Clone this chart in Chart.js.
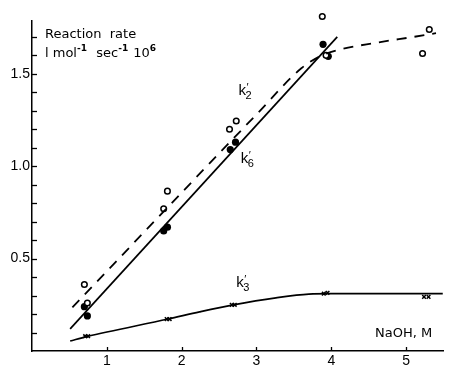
<!DOCTYPE html>
<html><head><meta charset="utf-8">
<script src="https://cdn.jsdelivr.net/npm/chart.js@4"></script>
<style>html,body{margin:0;padding:0;background:#fff}</style>
</head><body>
<canvas id="c" width="449" height="367" style="width:449px;height:367px;display:block"></canvas>
<script>
// ---- data ----
const xTicks = [1, 2, 3, 4, 5];
const yTickLabels = [0.5, 1.0, 1.5];
// k'2 : open circles
const k2OpenX = [0.70, 0.74, 1.76, 1.81, 2.64, 2.73, 3.88, 3.93, 5.22, 5.31];
const k2OpenY = [0.36, 0.26, 0.77, 0.865, 1.20, 1.245, 1.81, 1.60, 1.61, 1.74];
// k'6 : filled circles
const k6FillX = [0.70, 0.74, 1.76, 1.81, 2.65, 2.72, 3.89, 3.96];
const k6FillY = [0.24, 0.19, 0.65, 0.67, 1.09, 1.13, 1.66, 1.595];
// k'3 : crosses
const k3X = [0.71, 0.75, 1.80, 1.84, 2.67, 2.71, 3.90, 3.95, 5.24, 5.30];
const k3Y = [0.08, 0.08, 0.173, 0.173, 0.25, 0.25, 0.31, 0.315, 0.293, 0.293];
// fitted curves
const k2CurveX = [0.54, 3.0, 3.6, 3.85, 4.1, 4.6, 5.1, 5.4];
const k2CurveY = [0.236, 1.28, 1.53, 1.595, 1.63, 1.668, 1.70, 1.72];
const k6LineX = [0.51, 4.08];
const k6LineY = [0.12, 1.70];
const k3CurveX = [0.51, 0.73, 1.82, 2.24, 2.69, 3.26, 3.7, 4.0, 5.49];
const k3CurveY = [0.054, 0.078, 0.173, 0.212, 0.25, 0.288, 0.308, 0.31, 0.31];

const pts = (xs, ys) => xs.map((x, i) => ({x: x, y: ys[i]}));

const FONT = "'Liberation Sans', Arial, sans-serif";
const TFONT = "'DejaVu Sans', sans-serif";

const decor = {
  id: 'decor',
  afterDraw(chart) {
    const ctx = chart.ctx;
    const xs = chart.scales.x, ys = chart.scales.y;
    const ca = chart.chartArea;
    ctx.save();
    ctx.strokeStyle = '#000';
    ctx.lineWidth = 1.3;
    // inside ticks on y axis every 0.1
    for (let v = 1; v <= 17; v++) {
      const py = Math.round(ys.getPixelForValue(v / 10)) + 0.5;
      ctx.beginPath(); ctx.moveTo(ca.left, py); ctx.lineTo(ca.left + 5, py); ctx.stroke();
    }
    // inside ticks on x axis
    xTicks.forEach(v => {
      const px = Math.round(xs.getPixelForValue(v)) + 0.5;
      ctx.beginPath(); ctx.moveTo(px, ca.bottom); ctx.lineTo(px, ca.bottom - 4); ctx.stroke();
    });
    ctx.fillStyle = '#000';
    ctx.textBaseline = 'alphabetic';
    ctx.textAlign = 'left';
    // axis titles
    ctx.font = '13px ' + TFONT;
    ctx.fillText('Reaction  rate', 45, 38);
    let x = 45;
    const line2 = [['l mol', 0], ['-1', 1], ['  sec', 0], ['-1', 1], [' 10', 0], ['6', 1]];
    line2.forEach(([t, sup]) => {
      ctx.font = (sup ? 'bold 9px ' : '13px ') + TFONT;
      ctx.fillText(t, x, sup ? 51 : 57);
      x += ctx.measureText(t).width + (sup ? 1 : 0);
    });
    ctx.font = '13px ' + TFONT;
    ctx.fillText('NaOH, M', 375, 337);
    // curve labels
    const klabel = (sub, px, py) => {
      ctx.font = '15px ' + FONT;
      ctx.fillText('k', px, py);
      ctx.font = '11px ' + FONT;
      ctx.fillText('\u2032', px + 8, py - 4);
      ctx.fillText(sub, px + 7, py + 4);
    };
    klabel('2', xs.getPixelForValue(2.76), ys.getPixelForValue(1.385));
    klabel('6', xs.getPixelForValue(2.79), ys.getPixelForValue(1.015));
    klabel('3', xs.getPixelForValue(2.73), ys.getPixelForValue(0.345));
    ctx.restore();
  }
};

new Chart(document.getElementById('c'), {
  type: 'scatter',
  data: {
    datasets: [
      {data: pts(k2CurveX, k2CurveY), showLine: true, borderColor: '#000', borderWidth: 1.8,
       borderDash: [10, 8], pointRadius: 0, cubicInterpolationMode: 'monotone', clip: false},
      {data: pts(k6LineX, k6LineY), showLine: true, borderColor: '#000', borderWidth: 1.7,
       pointRadius: 0, clip: false},
      {data: pts(k3CurveX, k3CurveY), showLine: true, borderColor: '#000', borderWidth: 1.7,
       pointRadius: 0, cubicInterpolationMode: 'monotone', clip: false},
      {data: pts(k2OpenX, k2OpenY), pointStyle: 'circle', pointRadius: 2.8, pointBorderWidth: 1.5,
       pointBorderColor: '#000', pointBackgroundColor: '#fff', clip: false},
      {data: pts(k6FillX, k6FillY), pointStyle: 'circle', pointRadius: 3.6, pointBorderWidth: 0,
       pointBackgroundColor: '#000', pointBorderColor: '#000', clip: false},
      {data: pts(k3X, k3Y), pointStyle: 'crossRot', pointRadius: 2.6, pointBorderWidth: 1.5,
       pointBorderColor: '#000', clip: false}
    ]
  },
  options: {
    responsive: false,
    animation: false,
    devicePixelRatio: 1,
    layout: {padding: {top: 21, right: 4, left: 0, bottom: 0}},
    plugins: {legend: {display: false}, tooltip: {enabled: false}},
    scales: {
      x: {
        type: 'linear', min: 0, max: 5.5,
        border: {display: true, color: '#000', width: 1.5},
        grid: {display: false, drawTicks: false},
        afterFit(s) { s.height = 16; },
        afterBuildTicks(s) { s.ticks = xTicks.map(v => ({value: v})); },
        ticks: {color: '#000', font: {family: FONT, size: 14}, padding: 2, maxRotation: 0, autoSkip: false,
                callback: v => String(v)}
      },
      y: {
        type: 'linear', min: 0, max: 1.786,
        border: {display: true, color: '#000', width: 1.5},
        grid: {display: false, drawTicks: false},
        afterFit(s) { s.width = 32; },
        afterBuildTicks(s) { s.ticks = yTickLabels.map(v => ({value: v})); },
        ticks: {color: '#000', font: {family: FONT, size: 14}, padding: 2, autoSkip: false,
                callback: v => v.toFixed(1)}
      }
    }
  },
  plugins: [decor]
});
</script>
</body></html>
